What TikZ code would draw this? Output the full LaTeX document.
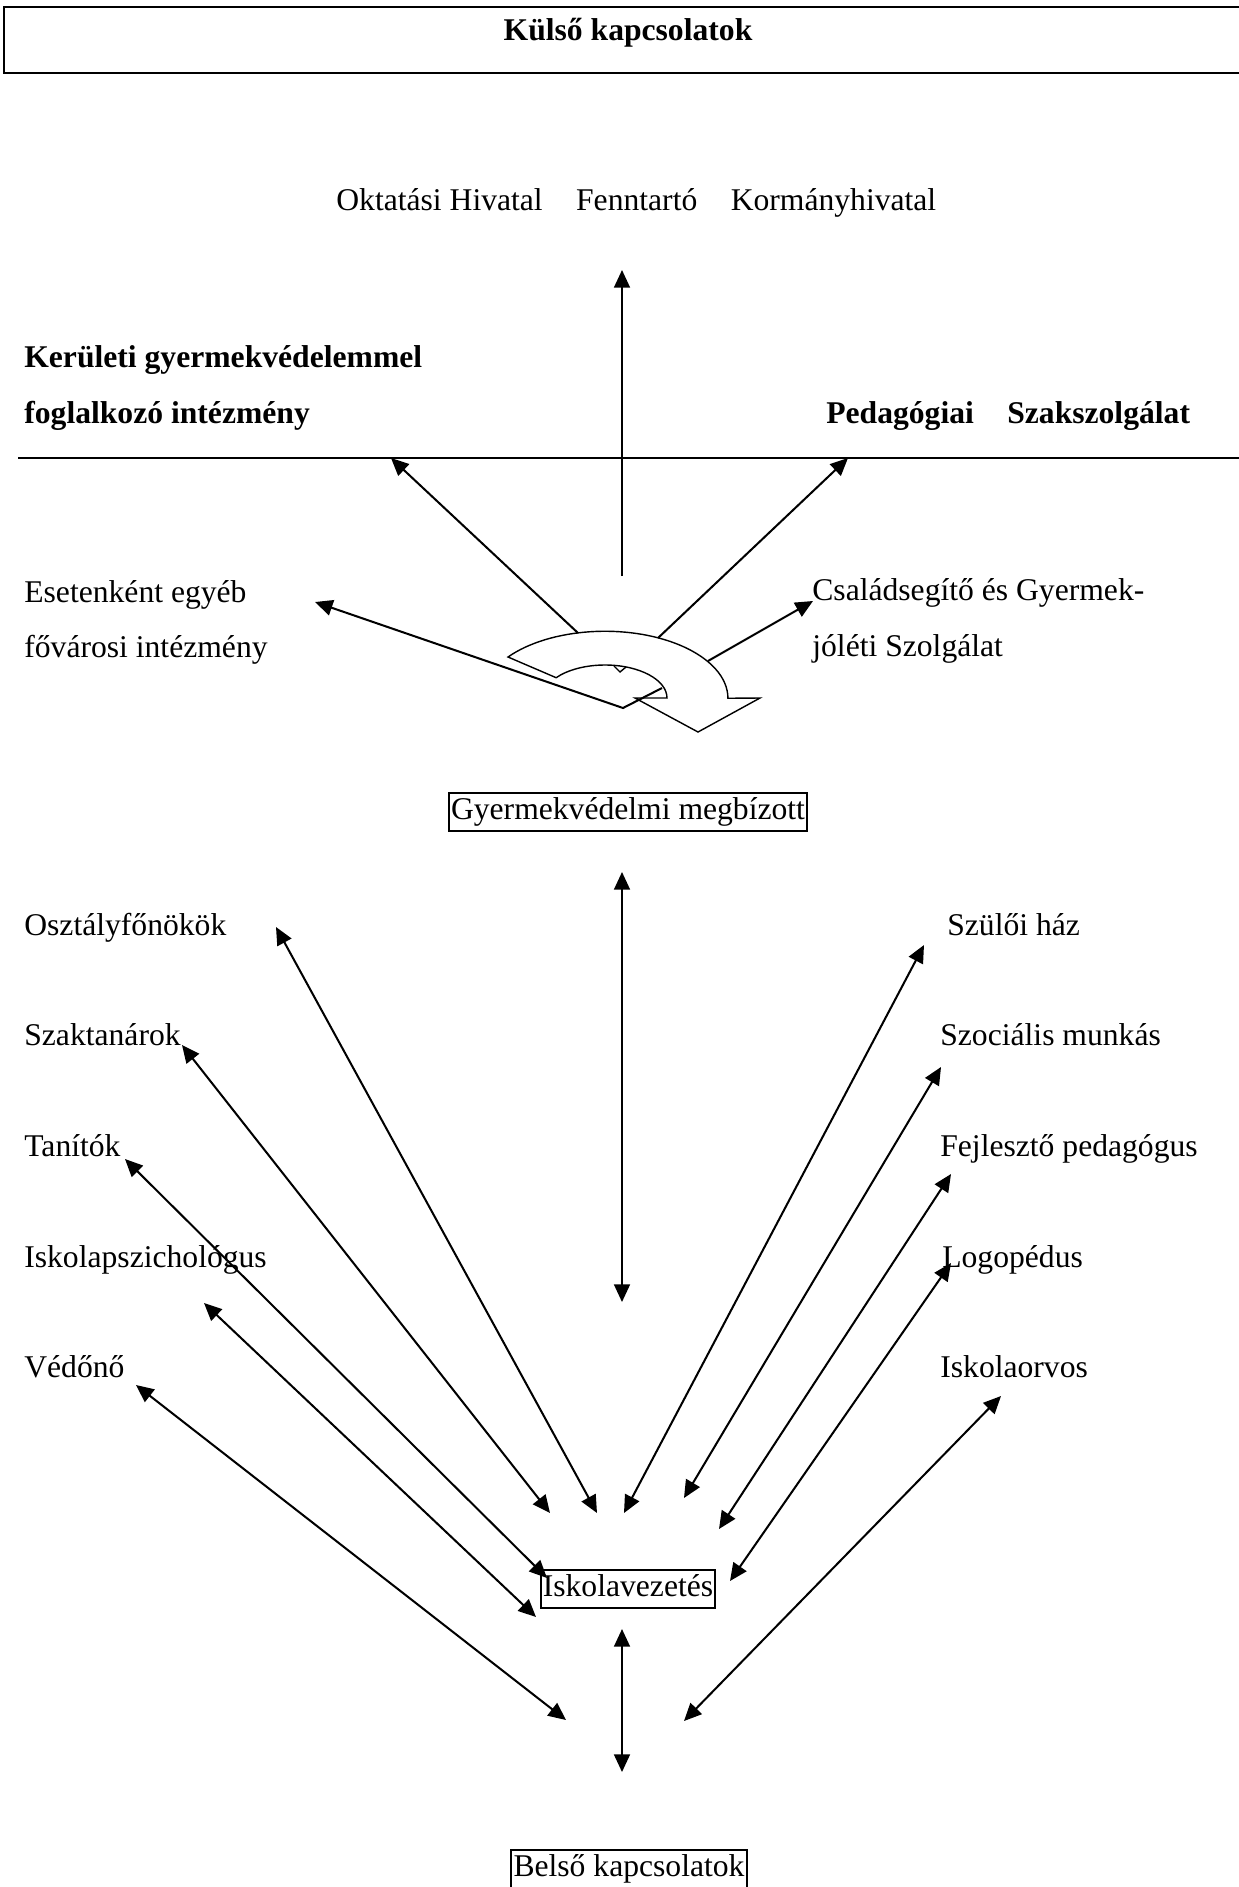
\documentclass[tikz,border=0pt]{standalone}
\usepackage{fontspec}
\setmainfont{Liberation Serif}
\usetikzlibrary{arrows.meta}

\tikzset{
  lbl/.style={font=\fontsize{18}{21}\selectfont, inner sep=0pt, anchor=base west},
  blbl/.style={lbl, font=\fontsize{18}{21}\selectfont\bfseries},
  boxed/.style={draw, line width=1.1pt, font=\fontsize{18}{21}\selectfont,
    inner xsep=1.2pt, inner ysep=2.4pt, text height=13pt, text depth=4pt},
  link/.style={line width=1.15pt, -{Triangle[length=10pt,width=9pt]}},
  dlink/.style={line width=1.15pt, {Triangle[length=10pt,width=9pt]}-{Triangle[length=10pt,width=9pt]}},
}

\begin{document}
\begin{tikzpicture}[x=0.02cm, y=-0.02cm]
\useasboundingbox (0,0) rectangle (1239,1887);

% kulso kapcsolatok
\draw [line width=1.7pt] (1260,7)--(4,7)--(4,73)--(1260,73);
\node [blbl, anchor=base] (kul) at (628,40) {Külső kapcsolatok};
\node [lbl] (hiv) at (336,210) {Oktatási Hivatal\hspace{19pt}Fenntartó\hspace{19pt}Kormányhivatal};
\node [blbl] (ker1) at (24,367) {Kerületi gyermekvédelemmel};
\node [blbl] (ker2) at (24,423) {foglalkozó intézmény};
\node [blbl] (ped) at (826,423) {Pedagógiai\hspace{19pt}Szakszolgálat};
\draw [line width=0.7pt] (18,458)--(1245,458);
\node [lbl] (ese1) at (24,602) {Esetenként egyéb};
\node [lbl] (ese2) at (24,657) {fővárosi intézmény};
\node [lbl] (csa1) at (812,600) {Családsegítő és Gyermek-};
\node [lbl] (csa2) at (812,656) {jóléti Szolgálat};

% gorbe nyil
\draw [line width=0.8pt, fill=white] (508,657)
  arc [start angle=218, end angle=360, x radius=123, y radius=67]
  --(760,698)--(698,732)--(635,698)--(667,698)
  arc [start angle=360, end angle=218, x radius=62, y radius=33] -- cycle;
\draw [line width=0.8pt] (614,666)--(620,672)--(626,667);

\coordinate (up0) at (622,576);
\coordinate (up1) at (622,270);
\coordinate (kl0) at (578,633);
\coordinate (kl1) at (391,458);
\coordinate (pd0) at (658,638);
\coordinate (pd1) at (848,458);
\coordinate (es0) at (662,688);
\coordinate (es1) at (623,708);
\coordinate (es2) at (315,602);
\coordinate (cs0) at (708,661);
\coordinate (cs1) at (813,601);
\draw [link] (up0)--(up1);
\draw [link] (kl0)--(kl1);
\draw [link] (pd0)--(pd1);
\draw [link] (es0)--(es1)--(es2);
\draw [link] (cs0)--(cs1);

% belso kapcsolatok
\node [boxed] (gym) at (628,812) {Gyermekvédelmi megbízott};
\node [lbl] (osz) at (24,935) {Osztályfőnökök};
\node [lbl] (szak) at (24,1045) {Szaktanárok};
\node [lbl] (tan) at (24,1156) {Tanítók};
\node [lbl] (psz) at (24,1267) {Iskolapszichológus};
\node [lbl] (ved) at (24,1377) {Védőnő};
\node [lbl] (szu) at (947,935) {Szülői ház};
\node [lbl] (szoc) at (940,1045) {Szociális munkás};
\node [lbl] (fej) at (940,1156) {Fejlesztő pedagógus};
\node [lbl] (logo) at (942,1267) {Logopédus};
\node [lbl] (orv) at (940,1377) {Iskolaorvos};
\node [boxed] (isk) at (628,1589) {Iskolavezetés};
\node [boxed] (bel) at (629,1869) {Belső kapcsolatok};

\coordinate (m0) at (622,872);
\coordinate (m1) at (622,1302);
\coordinate (n0) at (622,1629);
\coordinate (n1) at (622,1772);
\draw [dlink] (m0)--(m1);
\draw [dlink] (n0)--(n1);

\coordinate (osz0) at (276,927);   \coordinate (osz1) at (597,1513);
\coordinate (szak0) at (182,1045); \coordinate (szak1) at (550,1513);
\coordinate (tan0) at (125,1159);  \coordinate (tan1) at (547,1578);
\coordinate (psz0) at (204,1303);  \coordinate (psz1) at (536,1617);
\coordinate (ved0) at (136,1385);  \coordinate (ved1) at (566,1720);
\coordinate (szu0) at (924,945);   \coordinate (szu1) at (624,1513);
\coordinate (szoc0) at (941,1067); \coordinate (szoc1) at (684,1498);
\coordinate (fej0) at (951,1174);  \coordinate (fej1) at (719,1529);
\coordinate (logo0) at (951,1263); \coordinate (logo1) at (730,1581);
\coordinate (orv0) at (1001,1396); \coordinate (orv1) at (684,1721);
\foreach \p in {osz,szak,tan,psz,ved,szu,szoc,fej,logo,orv}
  \draw [dlink] (\p0)--(\p1);
\end{tikzpicture}
\end{document}
